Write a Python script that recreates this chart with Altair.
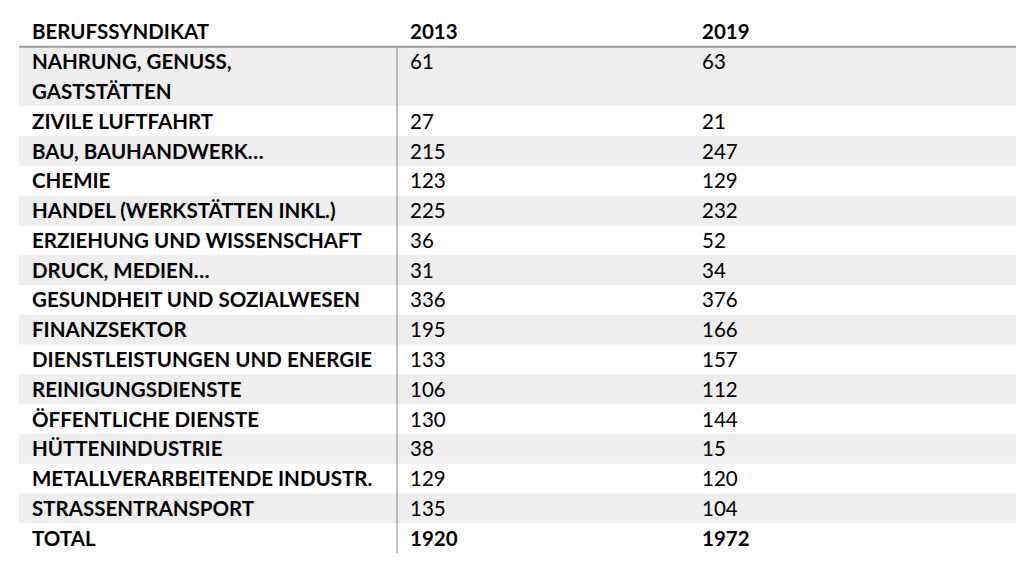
import altair as alt
import pandas as pd

header = ["BERUFSSYNDIKAT", "2013", "2019"]
labels = [
    "NAHRUNG, GENUSS,\nGASTSTÄTTEN", "ZIVILE LUFTFAHRT", "BAU, BAUHANDWERK…", "CHEMIE",
    "HANDEL (WERKSTÄTTEN INKL.)", "ERZIEHUNG UND WISSENSCHAFT", "DRUCK, MEDIEN…",
    "GESUNDHEIT UND SOZIALWESEN", "FINANZSEKTOR", "DIENSTLEISTUNGEN UND ENERGIE",
    "REINIGUNGSDIENSTE", "ÖFFENTLICHE DIENSTE", "HÜTTENINDUSTRIE",
    "METALLVERARBEITENDE INDUSTR.", "STRASSENTRANSPORT", "TOTAL",
]
v2013 = [61, 27, 215, 123, 225, 36, 31, 336, 195, 133, 106, 130, 38, 129, 135, 1920]
v2019 = [63, 21, 247, 129, 232, 52, 34, 376, 166, 157, 112, 144, 15, 120, 104, 1972]

# build row / line tables (slot units; header occupies slot 0)
rows, lines = [], []
slot = 1
for i, (lab, a, b) in enumerate(zip(labels, v2013, v2019)):
    parts = lab.split("\n")
    total = lab == "TOTAL"
    rows.append(dict(start=slot, end=slot + len(parts), band=(i % 2 == 0),
                     mid=slot + 0.5, a=str(a), b=str(b), total=total))
    for j, p in enumerate(parts):
        lines.append(dict(pos=slot + j + 0.5, text=p))
    slot += len(parts)
rows_df = pd.DataFrame(rows)
lines_df = pd.DataFrame(lines)
head_df = pd.DataFrame([dict(pos=0.5, h0=header[0], h1=header[1], h2=header[2], line=1, last=slot)])

W, H = 1008, 548
yscale = alt.Scale(domain=[-0.302, 18.1], reverse=True, nice=False, zero=False)
Y = lambda f: alt.Y(f, type="quantitative", scale=yscale, axis=None)
FONT = "Lato"
FS = 20.5

X_BAND0, X_BAND1 = 11, 1008
X_LAB, X_A, X_B, X_VLINE = 24, 402, 694, 389

bands = alt.Chart(rows_df).transform_filter("datum.band").mark_rect(color="#eeeeee").encode(
    x=alt.value(X_BAND0), x2=alt.value(X_BAND1), y=Y("start"), y2="end")

hline = alt.Chart(head_df).mark_rule(color="#a0a0a0", strokeWidth=2).encode(
    x=alt.value(X_BAND0), x2=alt.value(X_BAND1), y=Y("line"))

vline = alt.Chart(head_df).mark_rule(color="#888888", strokeWidth=1).encode(
    x=alt.value(X_VLINE), y=Y("line"), y2="last")

def txt(df, field, x, bold, filt=None):
    c = alt.Chart(df)
    if filt:
        c = c.transform_filter(filt)
    return c.mark_text(align="left", baseline="middle", font=FONT, fontSize=FS, dy=1.5,
                       fontWeight="bold" if bold else "normal", color="#000000").encode(
        x=alt.value(x), y=Y("pos" if "pos" in df.columns else "mid"), text=f"{field}:N")

layers = [
    bands, hline, vline,
    txt(head_df, "h0", X_LAB, True), txt(head_df, "h1", X_A, True), txt(head_df, "h2", X_B, True),
    txt(lines_df, "text", X_LAB, True),
    txt(rows_df, "a", X_A, False, "!datum.total"), txt(rows_df, "b", X_B, False, "!datum.total"),
    txt(rows_df, "a", X_A, True, "datum.total"), txt(rows_df, "b", X_B, True, "datum.total"),
]

chart = alt.layer(*layers).properties(
    width=W, height=H, padding=0, autosize=alt.AutoSizeParams(type="none"),
    background="white",
).configure_view(stroke=None)

chart.save("out.html", embed_options={"renderer": "svg", "actions": False})
